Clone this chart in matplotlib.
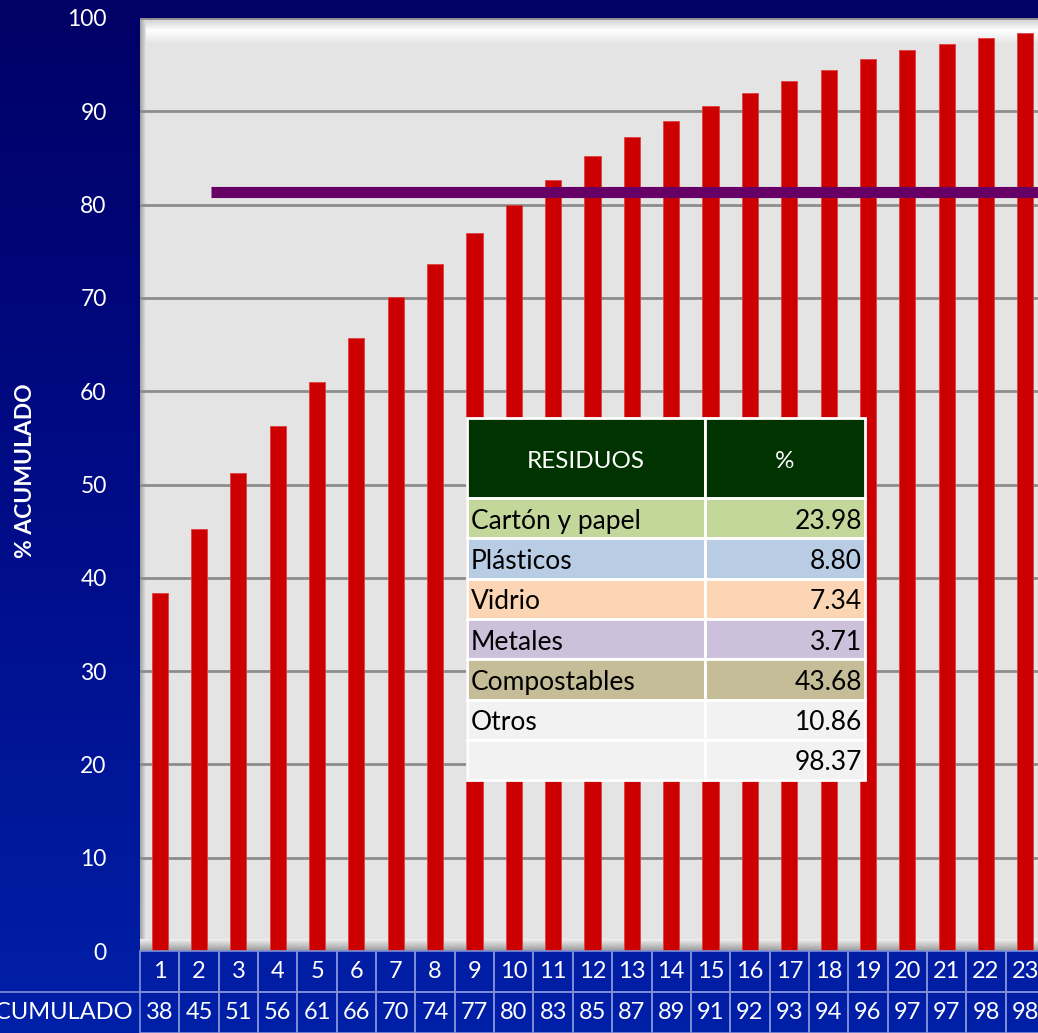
import numpy as np
import matplotlib
matplotlib.use("Agg")
import matplotlib.pyplot as plt
from matplotlib.patches import Rectangle
from matplotlib.colors import LinearSegmentedColormap
import matplotlib.transforms as mtransforms

plt.rcParams['font.family'] = ['Lato', 'DejaVu Sans']

# Cumulative percentage per sample
categories = [str(i) for i in range(1, 24)]
acumulado = [38.4, 45.2, 51.2, 56.3, 61.0, 65.7, 70.1, 73.6, 77.0, 80.0,
             82.6, 85.2, 87.2, 89.0, 90.6, 92.0, 93.2, 94.4, 95.6, 96.6,
             97.2, 97.9, 98.37]
acumulado_labels = ["38", "45", "51", "56", "61", "66", "70", "74", "77", "80",
                    "83", "85", "87", "89", "91", "92", "93", "94", "96", "97",
                    "97", "98", "98"]
umbral = 81.4

# Waste composition table
residuos = ["Cartón y papel", "Plásticos", "Vidrio", "Metales", "Compostables", "Otros", ""]
porcentajes = ["23.98", "8.80", "7.34", "3.71", "43.68", "10.86", "98.37"]
colores_filas = ["#C4D79B", "#B8CCE4", "#FCD5B4", "#CCC0DA", "#C4BD97", "#F2F2F2", "#F2F2F2"]

W, H = 1038, 1033
fig = plt.figure(figsize=(W / 100, H / 100), dpi=100)

# Background gradient
bg = fig.add_axes([0, 0, 1, 1], zorder=-10)
cmap = LinearSegmentedColormap.from_list("bg", ["#000066", "#000C88", "#0020A8"])
grad = np.linspace(0, 1, 256).reshape(-1, 1)
bg.imshow(grad, aspect="auto", cmap=cmap, extent=[0, 1, 0, 1], origin="upper")
bg.set_axis_off()

# Main plot area
left_px, right_px, top_px, bot_px = 140, 1045, 18, 951
ax = fig.add_axes([left_px / W, 1 - bot_px / H, (right_px - left_px) / W, (bot_px - top_px) / H])
ax.set_facecolor("#E4E4E4")
n = len(categories)
x = np.arange(n)
ax.set_xlim(-0.5, n - 0.5)
ax.set_ylim(0, 100)
ax.set_yticks(range(0, 101, 10))
ax.yaxis.grid(True, color="#8C8C8C", linewidth=2.0)
ax.set_axisbelow(True)
ax.tick_params(axis="y", length=0, pad=24, labelsize=16.5, labelcolor="white")
ax.tick_params(axis="x", length=0, labelbottom=False)
for s in ax.spines.values():
    s.set_visible(False)

# Bevel highlights and floor
top_grad = np.linspace(0, 1, 50).reshape(-1, 1)
ax.imshow(top_grad, aspect="auto",
          cmap=LinearSegmentedColormap.from_list("tp", ["#C8C8C8", "#FFFFFF", "#E4E4E4"]),
          extent=[-0.5, n - 0.5, 97.2, 100], zorder=0.5, origin="upper")
left_grad = np.linspace(0, 1, 50).reshape(1, -1)
ax.imshow(left_grad, aspect="auto",
          cmap=LinearSegmentedColormap.from_list("lf", ["#A0A0A0", "#E4E4E4"]),
          extent=[-0.5, -0.35, 0, 100], zorder=0.5)
floor = np.linspace(0, 1, 50).reshape(-1, 1)
ax.imshow(floor, aspect="auto", cmap=LinearSegmentedColormap.from_list("fl", ["#F0F0F0", "#9A9A9A"]),
          extent=[-0.5, n - 0.5, 0, 1.2], zorder=0.6, origin="upper")
ax.set_xlim(-0.5, n - 0.5)
ax.set_ylim(0, 100)

ax.bar(x, acumulado, width=0.41, color="#CC0000", edgecolor="#E04040", linewidth=0.6, zorder=3)
ax.plot([1.3, n - 0.5], [umbral, umbral], color="#660066", linewidth=8, solid_capstyle="butt", zorder=4)

ax.set_ylabel("% ACUMULADO", color="white", fontsize=16.5, fontweight="bold", labelpad=0)
ax.yaxis.set_label_coords((36 - left_px) / (right_px - left_px), 0.515)

# Bottom data table
trans = mtransforms.blended_transform_factory(ax.transData, fig.transFigure)
row_edges = [1 - 951 / H, 1 - 992 / H, 0]
grid_col = "#7F8FD8"
for i in range(n):
    for r in range(2):
        y0, y1 = row_edges[r + 1], row_edges[r]
        ax.add_patch(Rectangle((i - 0.5, y0), 1, y1 - y0, transform=trans, fill=False,
                               edgecolor=grid_col, linewidth=1.2, clip_on=False, zorder=5))
    ax.text(i, (row_edges[0] + row_edges[1]) / 2, categories[i], transform=trans, ha="center",
            va="center", color="white", fontsize=17, clip_on=False)
    ax.text(i, (row_edges[1] + row_edges[2]) / 2, acumulado_labels[i], transform=trans, ha="center",
            va="center", color="white", fontsize=17, clip_on=False)
fig.add_artist(plt.Line2D([0, left_px / W], [row_edges[1], row_edges[1]], color=grid_col, linewidth=1.2))
fig.text(133 / W, (row_edges[1] + row_edges[2]) / 2, "% ACUMULADO", ha="right", va="center",
         color="white", fontsize=17)

# Composition table overlay
tx0, tx1, tmid = 467, 865, 705
ty0 = 418
header_h = 80
row_h = 40.3
def fx(px):
    return px / W
def fy(py):
    return 1 - py / H

fig.add_artist(Rectangle((fx(tx0), fy(ty0 + header_h)), fx(tmid) - fx(tx0), header_h / H,
                         facecolor="#003300", edgecolor="white", linewidth=2, zorder=10))
fig.add_artist(Rectangle((fx(tmid), fy(ty0 + header_h)), fx(tx1) - fx(tmid), header_h / H,
                         facecolor="#003300", edgecolor="white", linewidth=2, zorder=10))
fig.text(fx((tx0 + tmid) / 2), fy(ty0 + header_h / 2 + 3), "RESIDUOS", ha="center", va="center",
         color="white", fontsize=17.5, zorder=11)
fig.text(fx((tmid + tx1) / 2), fy(ty0 + header_h / 2 + 3), "%", ha="center", va="center",
         color="white", fontsize=17.5, zorder=11)
for k, (nombre, val, col) in enumerate(zip(residuos, porcentajes, colores_filas)):
    top = ty0 + header_h + k * row_h
    for a, b in [(tx0, tmid), (tmid, tx1)]:
        fig.add_artist(Rectangle((fx(a), fy(top + row_h)), fx(b) - fx(a), row_h / H,
                                 facecolor=col, edgecolor="white", linewidth=2, zorder=10))
    fig.text(fx(tx0 + 4), fy(top + row_h / 2 + 3), nombre, ha="left", va="center",
             color="black", fontsize=19, zorder=11)
    fig.text(fx(tx1 - 3), fy(top + row_h / 2 + 3), val, ha="right", va="center",
             color="black", fontsize=19, zorder=11)

fig.savefig("out.png", dpi=100)
